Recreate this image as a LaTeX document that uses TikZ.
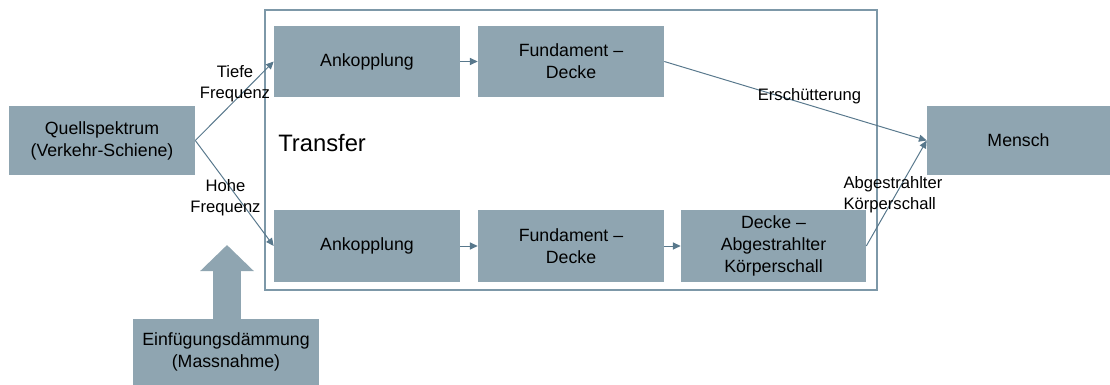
\documentclass[tikz,border=0pt]{standalone}
\usepackage{fontspec}
\setmainfont{Liberation Sans}
\usetikzlibrary{arrows.meta}
\definecolor{blockgray}{RGB}{143,165,177}
\definecolor{linegray}{RGB}{88,120,140}
\definecolor{framegray}{RGB}{125,152,168}
\tikzstyle{block}=[rectangle,fill=blockgray,align=center,inner sep=2pt,minimum width=4.65cm,minimum height=1.775cm,font=\fontsize{12.6}{15.6}\selectfont]
\tikzstyle{lbl}=[align=center,inner sep=0pt,font=\fontsize{11.8}{14.9}\selectfont]
\tikzstyle{conn}=[linegray,line width=0.7pt,-{Triangle[length=5.5pt,width=5pt]}]

\begin{document}
\begin{tikzpicture}[x=0.025cm,y=-0.025cm]
\useasboundingbox (0,0) rectangle (1110,385);

  \draw[framegray, line width=0.8pt] (265,10) rectangle (877,290);
  \node[anchor=west, inner sep=0pt, font=\fontsize{16.9}{20}\selectfont] (transfer) at (278,143) {Transfer};

\node[block, minimum height=1.725cm] (quelle) at (102,140.5) {Quellspektrum\\(Verkehr-Schiene)};
\node[block] (ankTop) at (367,61.5) {Ankopplung};
\node[block] (fundTop) at (571,61.5) {Fundament~--\\Decke};
\node[block] (ankBot) at (367,246) {Ankopplung};
\node[block] (fundBot) at (571,246) {Fundament~--\\Decke};
\node[block, minimum width=4.625cm] (decke) at (773.5,246) {Decke --\\Abgestrahlter\\Körperschall};
\node[block, minimum width=4.575cm, minimum height=1.725cm] (mensch) at (1018.5,140.5) {Mensch};
\node[block, minimum height=1.65cm] (einf) at (226,352) {Einfügungsdämmung\\(Massnahme)};

  \draw[conn] (quelle.east) -- (ankTop.west);
  \draw[conn] (quelle.east) -- (ankBot.west);
  \draw[conn] (ankTop) -- (fundTop);
  \draw[conn] (ankBot) -- (fundBot);
  \draw[conn] (fundBot) -- (decke);
  \draw[conn] (fundTop.east) -- (mensch.west);
  \draw[conn] (decke.east) -- (mensch.west);

\node[lbl] (tief) at (235,83.5) {Tiefe\\Frequenz};
\node[lbl] (hoch) at (225.5,198) {Hohe\\Frequenz};
\node[lbl] (ersch) at (809.5,96) {Erschütterung};
\node[lbl, align=left] (abg) at (893,194.5) {Abgestrahlter\\Körperschall};

\coordinate (massTip) at (227,245);
  \draw[blockgray, line width=0.675cm, -{Triangle[length=0.65cm,width=1.3cm]}] (einf.north -| massTip) -- (massTip);

\end{tikzpicture}
\end{document}
